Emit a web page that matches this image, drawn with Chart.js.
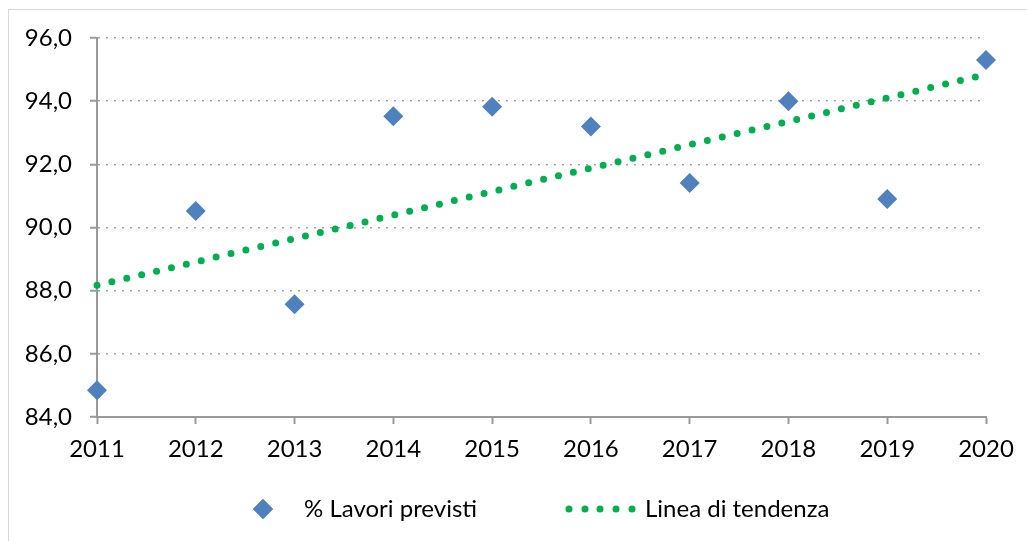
<!DOCTYPE html>
<html>
<head>
<meta charset="utf-8">
<script src="https://cdn.jsdelivr.net/npm/chart.js@4/dist/chart.umd.min.js"></script>
<style>
  html, body { margin: 0; padding: 0; background: #fff; }
  #wrap { width: 1027px; height: 541px; position: relative; }
</style>
</head>
<body>
<div id="wrap"><canvas id="chart" width="1027" height="541"></canvas></div>
<script>
// dati
const anni = ["2011", "2012", "2013", "2014", "2015", "2016", "2017", "2018", "2019", "2020"];
const lavoriPrevisti = [84.85, 90.52, 87.57, 93.52, 93.82, 93.2, 91.41, 94.0, 90.9, 95.3];
const tendenza = [88.17, 88.91, 89.65, 90.39, 91.14, 91.88, 92.62, 93.36, 94.1, 94.85];
const yTicks = [84, 86, 88, 90, 92, 94, 96];

const BLU = "#4F81BD";
const VERDE = "#00B050";
const FONT = "Lato, 'Liberation Sans', sans-serif";

// cornice e legenda disegnate a mano
const extras = {
  id: "extras",
  beforeDraw(chart) {
    const ctx = chart.ctx;
    ctx.save();
    ctx.strokeStyle = "#d9d9d9";
    ctx.lineWidth = 1;
    ctx.strokeRect(8.5, 9.5, 1100, 600);
    ctx.restore();
  },
  afterDraw(chart) {
    const ctx = chart.ctx;
    const y = 509;
    ctx.save();
    Chart.helpers.drawPoint(ctx, {
      pointStyle: "rectRot", radius: 10, rotation: 0, borderWidth: 0
    }, 263, y);
    ctx.fillStyle = BLU;
    ctx.fill();

    ctx.fillStyle = VERDE;
    [569, 585, 600, 616, 632].forEach(x => {
      ctx.beginPath();
      ctx.arc(x, y, 3.5, 0, Math.PI * 2);
      ctx.fill();
    });

    ctx.fillStyle = "#000";
    ctx.font = "24px " + FONT;
    ctx.textBaseline = "middle";
    ctx.fillText("% Lavori previsti", 304, y);
    ctx.fillText("Linea di tendenza", 645, y);
    ctx.restore();
  }
};

new Chart(document.getElementById("chart"), {
  type: "line",
  data: {
    labels: anni,
    datasets: [
      {
        label: "% Lavori previsti",
        data: lavoriPrevisti,
        showLine: false,
        pointStyle: "rectRot",
        pointRadius: 10,
        pointHoverRadius: 10,
        backgroundColor: BLU,
        borderColor: BLU,
        pointBorderWidth: 0,
        clip: false,
      },
      {
        label: "Linea di tendenza",
        data: tendenza,
        borderColor: VERDE,
        borderWidth: 7,
        borderDash: [0, 15.3],
        borderCapStyle: "round",
        pointRadius: 0,
        tension: 0,
        clip: false,
      },
    ],
  },
  options: {
    responsive: false,
    animation: false,
    layout: { padding: { left: 0, top: 38, right: 41, bottom: 64 } },
    plugins: {
      legend: { display: false },
      tooltip: { enabled: false },
    },
    scales: {
      x: {
        offset: false,
        grid: {
          drawOnChartArea: false,
          drawTicks: true,
          tickLength: 7,
          tickColor: "#999",
          tickWidth: 2,
        },
        border: { color: "#999", width: 2 },
        ticks: {
          color: "#000",
          font: { family: FONT, size: 24 },
          padding: 11,
          maxRotation: 0,
          autoSkip: false,
        },
        afterFit: (scale) => { scale.height = 60; },
      },
      y: {
        min: 84,
        max: 96,
        afterBuildTicks: (scale) => { scale.ticks = yTicks.map(v => ({ value: v })); },
        grid: {
          color: "#a6a6a6",
          lineWidth: 1.5,
          tickLength: 7,
          tickColor: "#999",
          tickWidth: 2,
          tickBorderDash: [],
        },
        border: { color: "#999", width: 2, dash: [2, 6] },
        ticks: {
          color: "#000",
          font: { family: FONT, size: 24 },
          padding: 18,
          callback: (v) => v.toFixed(1).replace(".", ","),
        },
        afterFit: (scale) => { scale.width = 97; },
      },
    },
  },
  plugins: [extras],
});
</script>
</body>
</html>
